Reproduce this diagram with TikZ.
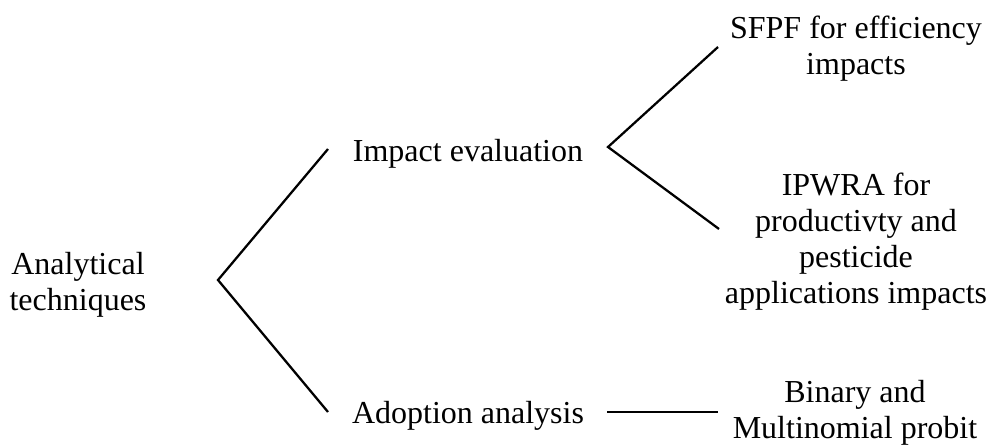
\documentclass[tikz,border=0pt]{standalone}
\usepackage{fontspec}
\setmainfont{Liberation Serif}
\usepackage{tikz}
\usetikzlibrary{positioning, calc}

\begin{document}
\begin{tikzpicture}[
  x=0.75pt, y=-0.75pt,
  lbl/.style={align=center, inner sep=0pt, font=\fontsize{24}{27}\selectfont},
  branch/.style={line width=1.7pt, black}
]
\useasboundingbox (0,0) rectangle (992,446);

\node[lbl] (root) at (78,285) {Analytical\\ techniques};
\node[lbl] (impact) at (468,153.5) {Impact evaluation};
\node[lbl] (adopt) at (468,415.5) {Adoption analysis};
\node[lbl] (sfpf) at (856,49) {SFPF for efficiency\\ impacts};
\node[lbl] (ipwra) at (856,242) {IPWRA for\\ productivty and\\ pesticide\\ applications impacts};
\node[lbl] (probit) at (855,413) {Binary and\\ Multinomial probit};

\coordinate (rootfork) at (218,280);
\coordinate (impfork) at (608,147);
\coordinate (imptip) at (328,149);
\coordinate (adopttip) at (328,412);
\coordinate (sfpftip) at (718,47);
\coordinate (ipwratip) at (719,229);
\coordinate (adoptout) at (607,412);
\coordinate (probittip) at (718,412);

\draw[branch] (imptip) -- (rootfork) -- (adopttip);
\draw[branch] (sfpftip) -- (impfork) -- (ipwratip);
\draw[branch] (adoptout) -- (probittip);
\end{tikzpicture}
\end{document}
